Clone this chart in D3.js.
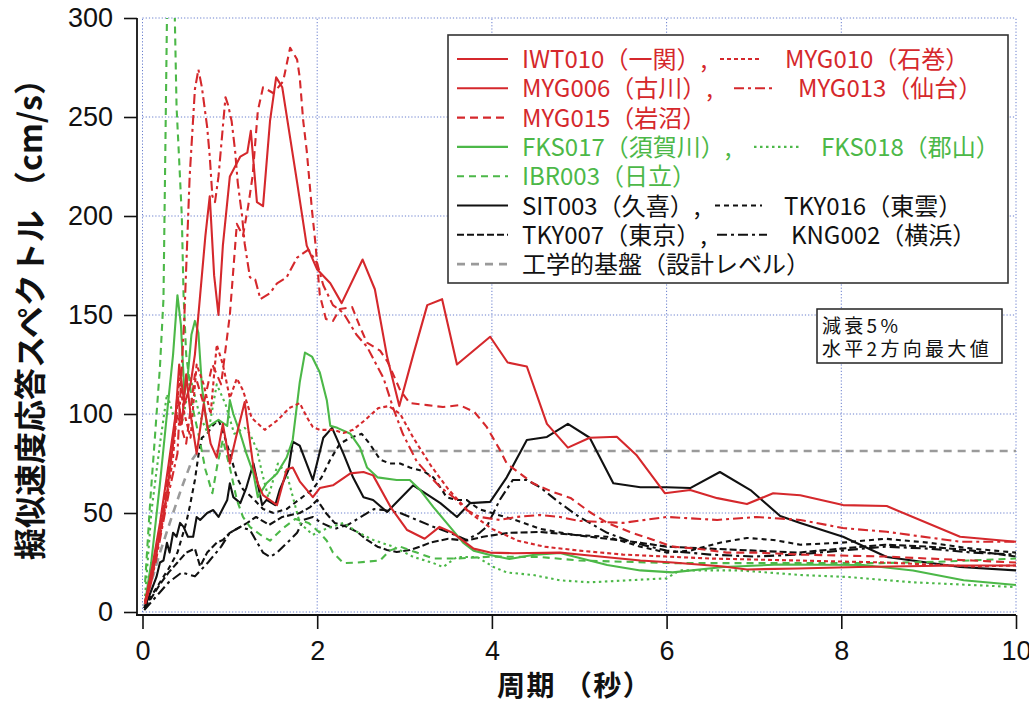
<!DOCTYPE html>
<html><head><meta charset="utf-8">
<script src="https://cdn.jsdelivr.net/npm/d3@7"></script>
<style>body{margin:0;background:#fff;}</style>
</head><body>
<svg id="c" width="1029" height="705"></svg>
<script>
// ---- data: [period (s), pseudo-velocity (cm/s)] ----
const IWT010 = [[0.03,5],[0.1,20],[0.2,45],[0.3,75],[0.38,100],[0.42,125],[0.48,105],[0.55,115],[0.6,130],[0.66,160],[0.72,190],[0.77,210],[0.82,170],[0.87,150],[0.92,185],[1.0,220],[1.12,230],[1.2,232],[1.24,243],[1.31,207],[1.38,205],[1.46,248],[1.53,270],[1.6,265],[1.77,217],[1.88,185],[2.0,173],[2.15,166],[2.28,156],[2.52,178],[2.66,163],[2.8,129],[2.94,104],[3.1,130],[3.26,155],[3.43,158],[3.6,125],[3.98,139],[4.18,126],[4.4,124],[4.63,95],[4.87,83],[5.12,88],[5.43,88.5],[5.66,79],[5.98,60],[6.27,61.6],[6.58,57.5],[6.92,54.5],[7.22,60],[7.53,59],[8.02,54],[8.52,53.5],[9.36,38],[10,35.5]];
const MYG010 = [[0.03,5],[0.12,22],[0.2,38],[0.28,58],[0.35,78],[0.42,118],[0.48,100],[0.55,88],[0.62,125],[0.7,115],[0.78,100],[0.85,135],[0.92,125],[1.0,108],[1.08,118],[1.15,112],[1.25,98],[1.4,92],[1.55,97],[1.68,103],[1.8,105.5],[1.88,98.5],[1.95,93.4],[2.03,92],[2.18,92],[2.3,90.4],[2.41,92],[2.55,97],[2.7,103],[2.82,104],[2.95,100],[3.1,88],[3.3,74],[3.5,62],[3.75,50],[4.0,42],[4.3,36],[4.6,33],[5.0,31],[5.5,29],[6.0,28],[6.5,27],[7.0,26.5],[7.5,26],[8.0,25.5],[8.5,25],[9.0,24],[9.5,23],[10,23.5]];
const MYG006 = [[0.03,4],[0.1,15],[0.2,40],[0.28,60],[0.35,85],[0.4,110],[0.45,95],[0.5,120],[0.55,100],[0.62,80],[0.7,105],[0.78,85],[0.85,78],[0.92,95],[1.0,75],[1.08,90],[1.17,106],[1.27,73],[1.32,65],[1.38,59],[1.54,54],[1.65,72],[1.72,73],[1.8,66],[1.95,58],[2.03,62.6],[2.18,64],[2.38,70],[2.53,70.7],[2.64,69],[2.84,53],[3.03,41.4],[3.23,37],[3.4,43],[3.55,40],[3.79,32],[3.98,30],[4.24,29.7],[4.78,30],[5.0,29],[5.7,26],[6.07,25],[6.65,23],[6.92,21.5],[7.5,22],[8.2,22.7],[9.3,23.5],[10,23.5]];
const MYG013 = [[0.03,4],[0.15,25],[0.3,60],[0.4,80],[0.48,150],[0.54,220],[0.6,264],[0.64,274],[0.68,265],[0.74,245],[0.77,230],[0.8,210],[0.83,207],[0.87,220],[0.91,240],[0.95,260],[0.98,256],[1.02,248],[1.06,233],[1.09,217],[1.14,200],[1.17,186],[1.23,169],[1.29,168],[1.35,158],[1.46,161],[1.54,166],[1.65,169],[1.77,179],[1.9,183],[2.0,176],[2.07,165],[2.18,155],[2.3,151],[2.45,140],[2.57,134],[2.76,118],[2.87,103],[2.98,90],[3.14,76],[3.26,70],[3.41,63],[3.56,58],[3.71,51.5],[3.86,48],[4.09,46.5],[4.28,48],[4.55,49],[4.78,48],[5.0,46],[5.5,45],[6.0,48],[6.58,46.5],[7.03,48],[7.53,46.5],[8.02,42.4],[8.52,40.5],[9.36,35.5],[10,35.5]];
const MYG015 = [[0.03,5],[0.15,30],[0.3,70],[0.4,100],[0.5,85],[0.6,120],[0.7,105],[0.8,125],[0.9,115],[1.0,150],[1.08,196],[1.15,190],[1.21,205],[1.26,220],[1.32,253],[1.38,265],[1.5,262],[1.61,268],[1.69,285],[1.77,279],[1.8,270],[1.84,248],[1.88,233],[1.94,203],[1.98,186],[2.03,160],[2.1,148],[2.18,147],[2.26,153],[2.4,154],[2.49,144],[2.57,136],[2.72,132],[2.81,126],[2.95,112],[3.06,105.5],[3.26,104.5],[3.44,103.5],[3.63,104.5],[3.8,101],[3.94,93.5],[4.09,82],[4.17,75],[4.32,70],[4.47,65],[4.7,60.6],[4.9,57.6],[5.12,50.5],[5.32,45],[5.58,40.4],[5.85,36.4],[6.07,33],[6.35,32],[6.69,30],[7.03,30],[7.53,29],[8.0,28.5],[8.5,28],[9.0,27],[9.5,26],[10,25]];
const FKS017 = [[0.03,5],[0.1,25],[0.2,65],[0.28,100],[0.35,130],[0.4,160],[0.44,145],[0.48,110],[0.52,120],[0.56,140],[0.6,147],[0.64,141],[0.68,114],[0.74,93],[0.8,95],[0.87,97],[0.97,94],[1.0,107],[1.04,100],[1.12,90],[1.19,80],[1.27,70],[1.32,58],[1.42,65],[1.54,70],[1.65,78],[1.72,87],[1.8,116],[1.86,131],[1.94,129],[2.03,121],[2.11,107],[2.15,94],[2.23,93],[2.38,90],[2.49,83],[2.57,73],[2.69,68],[2.91,66.7],[3.06,66.7],[3.18,61.6],[3.33,53],[3.52,43],[3.67,35],[3.79,31],[3.98,28.8],[4.2,26.8],[4.47,28.8],[4.78,29.8],[5.32,23.7],[5.7,21],[6.07,20],[6.65,22.7],[7.3,24],[8.25,23.7],[8.82,21],[9.4,16],[10,13.6]];
const FKS018 = [[0.03,8],[0.1,50],[0.2,85],[0.28,110],[0.35,100],[0.45,95],[0.55,118],[0.65,100],[0.75,90],[0.85,115],[0.95,105],[1.05,90],[1.17,93],[1.23,90],[1.31,82],[1.37,70],[1.44,58],[1.55,75],[1.65,70],[1.8,45],[1.95,39],[2.1,42],[2.3,45],[2.46,40.4],[2.64,36.4],[2.87,33],[3.1,27.8],[3.33,24.7],[3.44,22.7],[3.6,27.8],[3.83,27.8],[4.02,22.7],[4.17,20],[4.47,18.7],[4.78,16],[5.12,15],[6.0,17],[6.15,21],[6.84,21],[7.53,18.7],[8.07,17.7],[8.82,15],[10,12.6]];
const IBR003 = [[0.03,15],[0.09,57],[0.14,87],[0.2,124],[0.24,158],[0.26,228],[0.28,300],[0.32,340],[0.37,300],[0.39,255],[0.42,228],[0.45,200],[0.47,160],[0.5,130],[0.58,102],[0.64,90],[0.72,72],[0.8,60],[0.86,75],[0.92,87],[1.0,73],[1.08,56.6],[1.15,48],[1.23,43],[1.35,39],[1.46,36],[1.6,42],[1.75,47],[1.9,45],[2.03,40],[2.11,36],[2.18,30],[2.3,24.7],[2.46,25],[2.72,26],[2.83,31],[2.95,33],[3.14,30],[3.33,27],[3.6,27],[4.0,28],[4.55,27.8],[5.0,26],[6.07,24.7],[6.84,24.7],[7.53,24.7],[8.45,24.7],[9.2,25.5],[10,27]];
const SIT003 = [[0.02,2],[0.09,9.6],[0.16,17.7],[0.2,25],[0.24,26],[0.28,35],[0.31,30],[0.35,40],[0.39,38],[0.43,45],[0.47,43],[0.52,38],[0.58,38],[0.62,48],[0.66,46.5],[0.74,50],[0.81,51.5],[0.87,48],[0.97,56.6],[1.0,65],[1.04,58],[1.12,55],[1.19,63],[1.27,75],[1.31,66.7],[1.37,54],[1.42,56.6],[1.52,54],[1.57,61.6],[1.67,71.7],[1.72,86],[1.8,84],[1.95,66.7],[2.07,88],[2.17,93],[2.3,80],[2.41,68],[2.53,58],[2.64,56.6],[2.8,50.5],[3.1,64],[3.41,55],[3.6,48],[3.75,55],[3.98,55.6],[4.17,68],[4.4,86.9],[4.63,88.4],[4.87,95],[5.12,88],[5.39,65],[5.7,63],[6.0,63],[6.27,62.6],[6.61,70.7],[6.96,61.6],[7.3,48.5],[7.53,45],[8.02,38],[8.52,27.8],[9.36,22.7],[10,21]];
const TKY016 = [[0.02,2],[0.1,8],[0.2,15],[0.3,22],[0.4,30],[0.5,45],[0.54,53],[0.6,66.7],[0.64,79],[0.68,88],[0.74,90],[0.8,94],[0.87,97],[0.93,90],[1.0,80],[1.08,68],[1.15,62],[1.25,58],[1.38,52],[1.5,50],[1.65,52],[1.8,57],[1.95,62],[2.05,68],[2.15,77],[2.26,85],[2.38,88],[2.51,90],[2.6,85],[2.72,77],[2.83,75],[2.95,75],[3.06,73],[3.22,71],[3.33,68],[3.41,63],[3.48,58],[3.6,56.6],[3.71,56.6],[3.85,52],[4.0,50],[4.3,46],[4.55,42],[4.93,39],[5.32,38],[5.7,33],[6.0,30],[6.27,31],[6.61,35],[6.92,37.4],[7.22,36.4],[7.53,34],[8.0,35],[8.5,37],[9.0,35],[9.5,32],[10,30]];
const TKY007 = [[0.02,2],[0.1,7],[0.2,14],[0.3,20],[0.4,25],[0.5,30],[0.6,32],[0.66,23],[0.74,30],[0.85,35],[0.92,36.4],[1.0,40],[1.12,43],[1.2,45],[1.3,48],[1.45,44],[1.6,48],[1.8,50],[1.92,53],[2.0,56.6],[2.1,50],[2.2,45],[2.34,43],[2.46,40.4],[2.57,36.4],[2.69,33],[2.8,31.3],[2.91,30.3],[3.06,31.3],[3.18,33],[3.29,35],[3.5,37],[3.7,36],[3.9,38],[4.2,40],[4.55,40.4],[4.93,39],[5.32,37],[5.7,35],[6.0,33],[6.5,32],[7.0,31],[7.5,30],[8.0,32],[8.5,34],[9.0,33],[9.5,31],[10,28]];
const KNG002 = [[0.02,1],[0.1,5],[0.2,10],[0.3,15],[0.45,20],[0.6,18],[0.75,25],[0.9,33],[1.0,40],[1.12,43],[1.23,41.4],[1.38,30],[1.46,27.8],[1.54,30],[1.69,36.4],[1.77,40],[1.84,46.5],[1.95,48],[2.05,45],[2.2,42],[2.35,44],[2.5,48],[2.65,52],[2.76,51.5],[2.95,50],[3.14,46.5],[3.33,43],[3.52,40],[3.71,36.4],[3.86,40],[3.94,43],[4.09,56.6],[4.24,66.7],[4.4,66.7],[4.55,63],[4.78,55],[5.0,48],[5.32,40],[5.62,35],[6.0,31],[6.5,29],[7.0,28],[7.5,29],[8.0,31],[8.5,33],[9.0,32],[9.5,30],[10,29]];
const DESIGN = [[0.02,3],[0.1,15],[0.2,30],[0.35,50],[0.45,63],[0.57,77],[0.64,81.3],[10,81.3]];

const xTicks = [0,2,4,6,8,10];
const yTicks = [0,50,100,150,200,250,300];
const legendRows = [
  ["IWT010（一関）,","MYG010（石巻）"],
  ["MYG006（古川）,","MYG013（仙台）"],
  ["MYG015（岩沼）"],
  ["FKS017（須賀川）,","FKS018（郡山）"],
  ["IBR003（日立）"],
  ["SIT003（久喜）,","TKY016（東雲）"],
  ["TKY007（東京）,","KNG002（横浜）"],
  ["工学的基盤（設計レベル）"]
];
const noteLines = ["減衰5%","水平2方向最大値"];

// ---- styles ----
const RED="#d5282c", GREEN="#4cb848", BLACK="#111111", GREY="#9a9a9a";
const styles = {
  IWT010:{c:RED,d:null}, MYG010:{c:RED,d:"4,3"}, MYG006:{c:RED,d:null},
  MYG013:{c:RED,d:"10,4,3,4"}, MYG015:{c:RED,d:"8,5"},
  FKS017:{c:GREEN,d:null}, FKS018:{c:GREEN,d:"2.5,3.5"}, IBR003:{c:GREEN,d:"7,5"},
  SIT003:{c:BLACK,d:null}, TKY016:{c:BLACK,d:"5,4"}, TKY007:{c:BLACK,d:"7,3"},
  KNG002:{c:BLACK,d:"10,4,3,4"}, DESIGN:{c:GREY,d:"8,6"}
};
const seriesData = {IWT010,MYG010,MYG006,MYG013,MYG015,FKS017,FKS018,IBR003,SIT003,TKY016,TKY007,KNG002,DESIGN};
const drawOrder = ["DESIGN","KNG002","TKY007","TKY016","SIT003","IBR003","FKS018","FKS017","MYG010","MYG013","MYG006","MYG015","IWT010"];

const svg = d3.select("#c");
const x = d3.scaleLinear().domain([0,10]).range([142.5,1016]);
const y = d3.scaleLinear().domain([0,300]).range([612,18]);

// grid
const grid = svg.append("g").attr("stroke","#4f68c6").attr("stroke-width",1).attr("stroke-dasharray","1.2,2").attr("opacity",0.85);
xTicks.forEach(t=>grid.append("line").attr("x1",x(t)).attr("x2",x(t)).attr("y1",y(0)).attr("y2",y(300)));
yTicks.forEach(t=>grid.append("line").attr("x1",x(0)).attr("x2",x(10)).attr("y1",y(t)).attr("y2",y(t)));

// clip
svg.append("clipPath").attr("id","clip").append("rect")
  .attr("x",x(0)).attr("y",y(300)).attr("width",x(10)-x(0)).attr("height",y(0)-y(300));

const line = d3.line().x(d=>x(d[0])).y(d=>y(d[1]));
const plot = svg.append("g").attr("clip-path","url(#clip)");
drawOrder.forEach(k=>{
  const s = styles[k];
  plot.append("path").datum(seriesData[k]).attr("d",line)
    .attr("fill","none").attr("stroke",s.c)
    .attr("stroke-width", k==="DESIGN"?2.6:2.1)
    .attr("stroke-linejoin","round")
    .attr("stroke-dasharray",s.d);
});

// axes
const tickFont = "'Liberation Sans', Arial, sans-serif";
const yAxis = svg.append("g").attr("transform","translate(137,0)")
  .call(d3.axisLeft(y).tickValues(yTicks).tickSize(13).tickPadding(11).tickSizeOuter(0));
const xAxis = svg.append("g").attr("transform","translate(0,615)")
  .call(d3.axisBottom(x).tickValues(xTicks).tickSize(14).tickPadding(12).tickSizeOuter(0));
[yAxis,xAxis].forEach(a=>{
  a.select(".domain").remove();
  a.selectAll(".tick line").attr("stroke","#111").attr("stroke-width",1.6);
  a.selectAll("text").attr("font-family",tickFont).attr("font-size",27).attr("fill","#111");
});
svg.append("line").attr("x1",137).attr("x2",137).attr("y1",y(300)).attr("y2",616).attr("stroke","#111").attr("stroke-width",1.8);
svg.append("line").attr("x1",136).attr("x2",x(10)).attr("y1",615).attr("y2",615).attr("stroke","#111").attr("stroke-width",1.8);

// axis titles
const jp = "'Noto Sans CJK JP', 'Noto Sans', sans-serif";
svg.append("text").attr("transform","translate(42,560) rotate(-90)")
  .attr("font-family",jp).attr("font-size",32).attr("font-weight",700).attr("fill","#111")
  .text("擬似速度応答スペクトル （cm/s）");
svg.append("text").attr("x",497).attr("y",696)
  .attr("font-family",jp).attr("font-size",28).attr("font-weight",700).attr("fill","#111")
  .attr("letter-spacing",1.5)
  .text("周期 （秒）");

// legend
const lg = svg.append("g");
lg.append("rect").attr("x",448).attr("y",35).attr("width",560).attr("height",248)
  .attr("fill","#fff").attr("stroke","#333").attr("stroke-width",1.6);
const rowKeys = [["IWT010","MYG010"],["MYG006","MYG013"],["MYG015"],["FKS017","FKS018"],["IBR003"],["SIT003","TKY016"],["TKY007","KNG002"],["DESIGN"]];
const secondSample = [[720,760,785],[734,776,798],null,[754,802,821],null,[715,762,784],[717,767,791],null];
const textColor = {IWT010:RED,MYG010:RED,MYG006:RED,MYG013:RED,MYG015:RED,FKS017:GREEN,FKS018:GREEN,IBR003:GREEN,SIT003:BLACK,TKY016:BLACK,TKY007:BLACK,KNG002:BLACK,DESIGN:BLACK};
rowKeys.forEach((keys,i)=>{
  const cy = 59 + i*29.3;
  const drawSample=(k,x1,x2)=>lg.append("line").attr("x1",x1).attr("x2",x2).attr("y1",cy).attr("y2",cy)
     .attr("stroke",styles[k].c).attr("stroke-width",k==="DESIGN"?2.6:2.1).attr("stroke-dasharray",styles[k].d);
  const drawText=(k,tx,str)=>lg.append("text").attr("x",tx).attr("y",cy+9).attr("font-family",jp)
     .attr("font-size",24).attr("fill",textColor[k]).text(str);
  drawSample(keys[0],457,508);
  drawText(keys[0],522,legendRows[i][0]);
  if(keys[1]){
    const p = secondSample[i];
    drawSample(keys[1],p[0],p[1]);
    drawText(keys[1],p[2],legendRows[i][1]);
  }
});

// note box
const nb = svg.append("g");
nb.append("rect").attr("x",817).attr("y",309).attr("width",185).attr("height",54)
  .attr("fill","#fff").attr("stroke","#222").attr("stroke-width",1.5);
noteLines.forEach((t,i)=>nb.append("text").attr("x",822).attr("y",333+i*23)
  .attr("font-family",jp).attr("font-size",19).attr("letter-spacing",3.3).attr("fill","#111").text(t));
</script>
</body></html>
